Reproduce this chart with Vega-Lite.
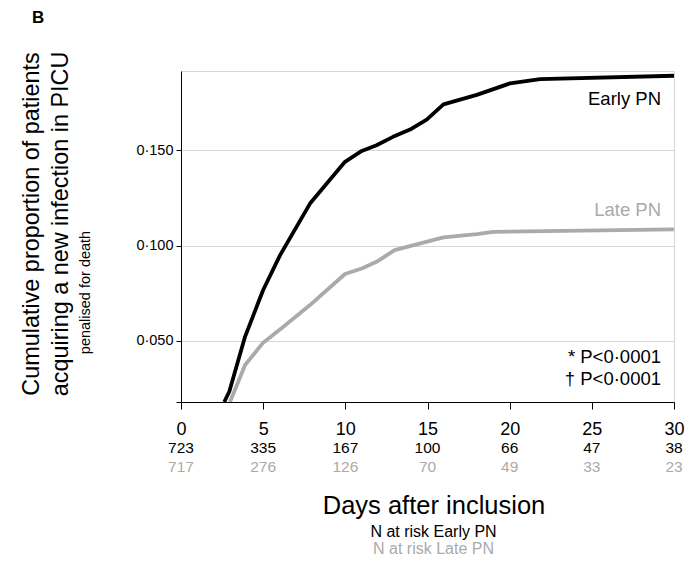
{
  "$schema": "https://vega.github.io/schema/vega-lite/v6.json",
  "background": "white",
  "padding": {"left": 18, "top": 8, "right": 5, "bottom": 5},
  "config": {
    "font": "Liberation Sans",
    "view": {"stroke": "#d6d6d6", "strokeWidth": 1},
    "axis": {"labelColor": "#000000", "titleColor": "#000000", "titleFontWeight": "normal", "domainColor": "#000000", "tickColor": "#000000"}
  },
  "datasets": {
    "curves": [
      {"arm": "Early PN", "day": 2.63, "proportion": 0.018},
      {"arm": "Early PN", "day": 2.94, "proportion": 0.0235},
      {"arm": "Early PN", "day": 3.9, "proportion": 0.0523},
      {"arm": "Early PN", "day": 5.0, "proportion": 0.0767},
      {"arm": "Early PN", "day": 6.03, "proportion": 0.095},
      {"arm": "Early PN", "day": 7.85, "proportion": 0.122},
      {"arm": "Early PN", "day": 9.98, "proportion": 0.1439},
      {"arm": "Early PN", "day": 11.0, "proportion": 0.1496},
      {"arm": "Early PN", "day": 11.9, "proportion": 0.1526},
      {"arm": "Early PN", "day": 12.9, "proportion": 0.157},
      {"arm": "Early PN", "day": 13.94, "proportion": 0.1608},
      {"arm": "Early PN", "day": 14.95, "proportion": 0.166},
      {"arm": "Early PN", "day": 15.97, "proportion": 0.174},
      {"arm": "Early PN", "day": 18.0, "proportion": 0.179},
      {"arm": "Early PN", "day": 20.02, "proportion": 0.185},
      {"arm": "Early PN", "day": 21.85, "proportion": 0.1872},
      {"arm": "Early PN", "day": 30.0, "proportion": 0.189},
      {"arm": "Late PN", "day": 2.98, "proportion": 0.018},
      {"arm": "Late PN", "day": 3.9, "proportion": 0.0374},
      {"arm": "Late PN", "day": 5.0, "proportion": 0.0491},
      {"arm": "Late PN", "day": 6.23, "proportion": 0.0575},
      {"arm": "Late PN", "day": 7.85, "proportion": 0.0688},
      {"arm": "Late PN", "day": 9.98, "proportion": 0.0851},
      {"arm": "Late PN", "day": 11.0, "proportion": 0.088},
      {"arm": "Late PN", "day": 11.9, "proportion": 0.0915},
      {"arm": "Late PN", "day": 13.0, "proportion": 0.0976},
      {"arm": "Late PN", "day": 15.15, "proportion": 0.1025},
      {"arm": "Late PN", "day": 15.97, "proportion": 0.1043},
      {"arm": "Late PN", "day": 18.0, "proportion": 0.106},
      {"arm": "Late PN", "day": 19.0, "proportion": 0.1072},
      {"arm": "Late PN", "day": 30.0, "proportion": 0.1085}
    ],
    "atRisk": [
      {"arm": "Early PN", "day": 0, "n": 723},
      {"arm": "Early PN", "day": 5, "n": 335},
      {"arm": "Early PN", "day": 10, "n": 167},
      {"arm": "Early PN", "day": 15, "n": 100},
      {"arm": "Early PN", "day": 20, "n": 66},
      {"arm": "Early PN", "day": 25, "n": 47},
      {"arm": "Early PN", "day": 30, "n": 38},
      {"arm": "Late PN", "day": 0, "n": 717},
      {"arm": "Late PN", "day": 5, "n": 276},
      {"arm": "Late PN", "day": 10, "n": 126},
      {"arm": "Late PN", "day": 15, "n": 70},
      {"arm": "Late PN", "day": 20, "n": 49},
      {"arm": "Late PN", "day": 25, "n": 33},
      {"arm": "Late PN", "day": 30, "n": 23}
    ]
  },
  "bounds": "flush",
  "spacing": 36,
  "vconcat": [
    {
      "width": 493,
      "height": 331,
      "title": {"text": "B", "anchor": "start", "frame": "bounds", "fontSize": 17, "fontWeight": "bold", "offset": 24, "dx": 13, "color": "#000000"},
      "layer": [
        {
          "data": {"name": "curves"},
          "mark": {"type": "line", "strokeWidth": 3.8, "clip": true, "strokeJoin": "round"},
          "encoding": {
            "x": {
              "field": "day", "type": "quantitative",
              "scale": {"domain": [0, 30], "nice": false},
              "axis": {"title": null, "values": [0, 5, 10, 15, 20, 25, 30], "grid": false, "tickSize": 7, "labelFontSize": 18, "labelPadding": 11, "labelFlush": false}
            },
            "y": {
              "field": "proportion", "type": "quantitative",
              "scale": {"domain": [0.018, 0.1915], "nice": false, "zero": false},
              "axis": {
                "orient": "left",
                "values": [0.018, 0.05, 0.1, 0.15],
                "labelExpr": "datum.value < 0.03 ? '' : replace(format(datum.value, '.3f'), '.', '·')",
                "labelFontSize": 14.5, "labelPadding": 3, "tickSize": 5,
                "grid": true, "gridColor": "#d6d6d6",
                "title": "penalised for death", "titleFontSize": 14.5, "titlePadding": 43, "titleY": 221
              }
            },
            "color": {
              "field": "arm", "type": "nominal",
              "scale": {"domain": ["Early PN", "Late PN"], "range": ["#000000", "#aaaaaa"]},
              "legend": null
            }
          }
        },
        {
          "data": {"values": [{}]},
          "layer": [
            {
              "mark": {"type": "text", "align": "right", "baseline": "middle", "fontSize": 18.5, "color": "#000000"},
              "encoding": {
                "x": {"datum": 29.21, "type": "quantitative"},
                "y": {
                  "datum": 0.1768, "type": "quantitative",
                  "scale": {"domain": [0.018, 0.1915], "nice": false, "zero": false},
                  "axis": {
                    "orient": "left", "offset": 109, "labels": false, "ticks": false, "domain": false, "grid": false,
                    "title": ["Cumulative proportion of patients", "acquiring a new infection in PICU"],
                    "titleFontSize": 23.4, "titleLineHeight": 29, "titlePadding": 0, "titleY": 152.5
                  }
                },
                "text": {"value": "Early PN"}
              }
            },
            {
              "mark": {"type": "text", "align": "right", "baseline": "middle", "fontSize": 18.5, "color": "#aaaaaa"},
              "encoding": {
                "x": {"datum": 29.21, "type": "quantitative"},
                "y": {"datum": 0.1186, "type": "quantitative", "scale": {"domain": [0.018, 0.1915], "nice": false, "zero": false}},
                "text": {"value": "Late PN"}
              }
            },
            {
              "mark": {"type": "text", "align": "right", "baseline": "middle", "fontSize": 18.5, "color": "#000000"},
              "encoding": {
                "x": {"datum": 29.21, "type": "quantitative"},
                "y": {"datum": 0.0416, "type": "quantitative", "scale": {"domain": [0.018, 0.1915], "nice": false, "zero": false}},
                "text": {"value": "* P<0·0001"}
              }
            },
            {
              "mark": {"type": "text", "align": "right", "baseline": "middle", "fontSize": 18.5, "color": "#000000"},
              "encoding": {
                "x": {"datum": 29.21, "type": "quantitative"},
                "y": {"datum": 0.0301, "type": "quantitative", "scale": {"domain": [0.018, 0.1915], "nice": false, "zero": false}},
                "text": {"value": "† P<0·0001"}
              }
            }
          ]
        }
      ],
      "resolve": {"scale": {"y": "independent"}, "axis": {"y": "independent"}}
    },
    {
      "width": 493,
      "height": 38,
      "data": {"name": "atRisk"},
      "mark": {"type": "text", "fontSize": 15.5, "baseline": "middle"},
      "encoding": {
        "x": {
          "field": "day", "type": "quantitative",
          "scale": {"domain": [0, 30], "nice": false},
          "axis": {"title": "Days after inclusion", "labels": false, "ticks": false, "domain": false, "grid": false, "titleFontSize": 25.5, "titlePadding": 17, "titleX": 252.5}
        },
        "y": {
          "field": "arm", "type": "nominal",
          "scale": {"type": "point", "padding": 0.5, "domain": ["Early PN", "Late PN"]},
          "axis": null
        },
        "text": {"field": "n", "type": "quantitative"},
        "color": {
          "field": "arm", "type": "nominal",
          "scale": {"domain": ["Early PN", "Late PN"], "range": ["#000000", "#aaaaaa"]},
          "legend": null
        }
      },
      "view": {"stroke": null},
      "title": {
        "text": "N at risk Early PN", "subtitle": "N at risk Late PN", "orient": "bottom", "anchor": "middle",
        "fontSize": 16, "fontWeight": "normal", "color": "#000000", "dx": 6,
        "subtitleFontSize": 16, "subtitleColor": "#aaaaaa", "subtitlePadding": 1, "offset": 5
      }
    }
  ]
}
